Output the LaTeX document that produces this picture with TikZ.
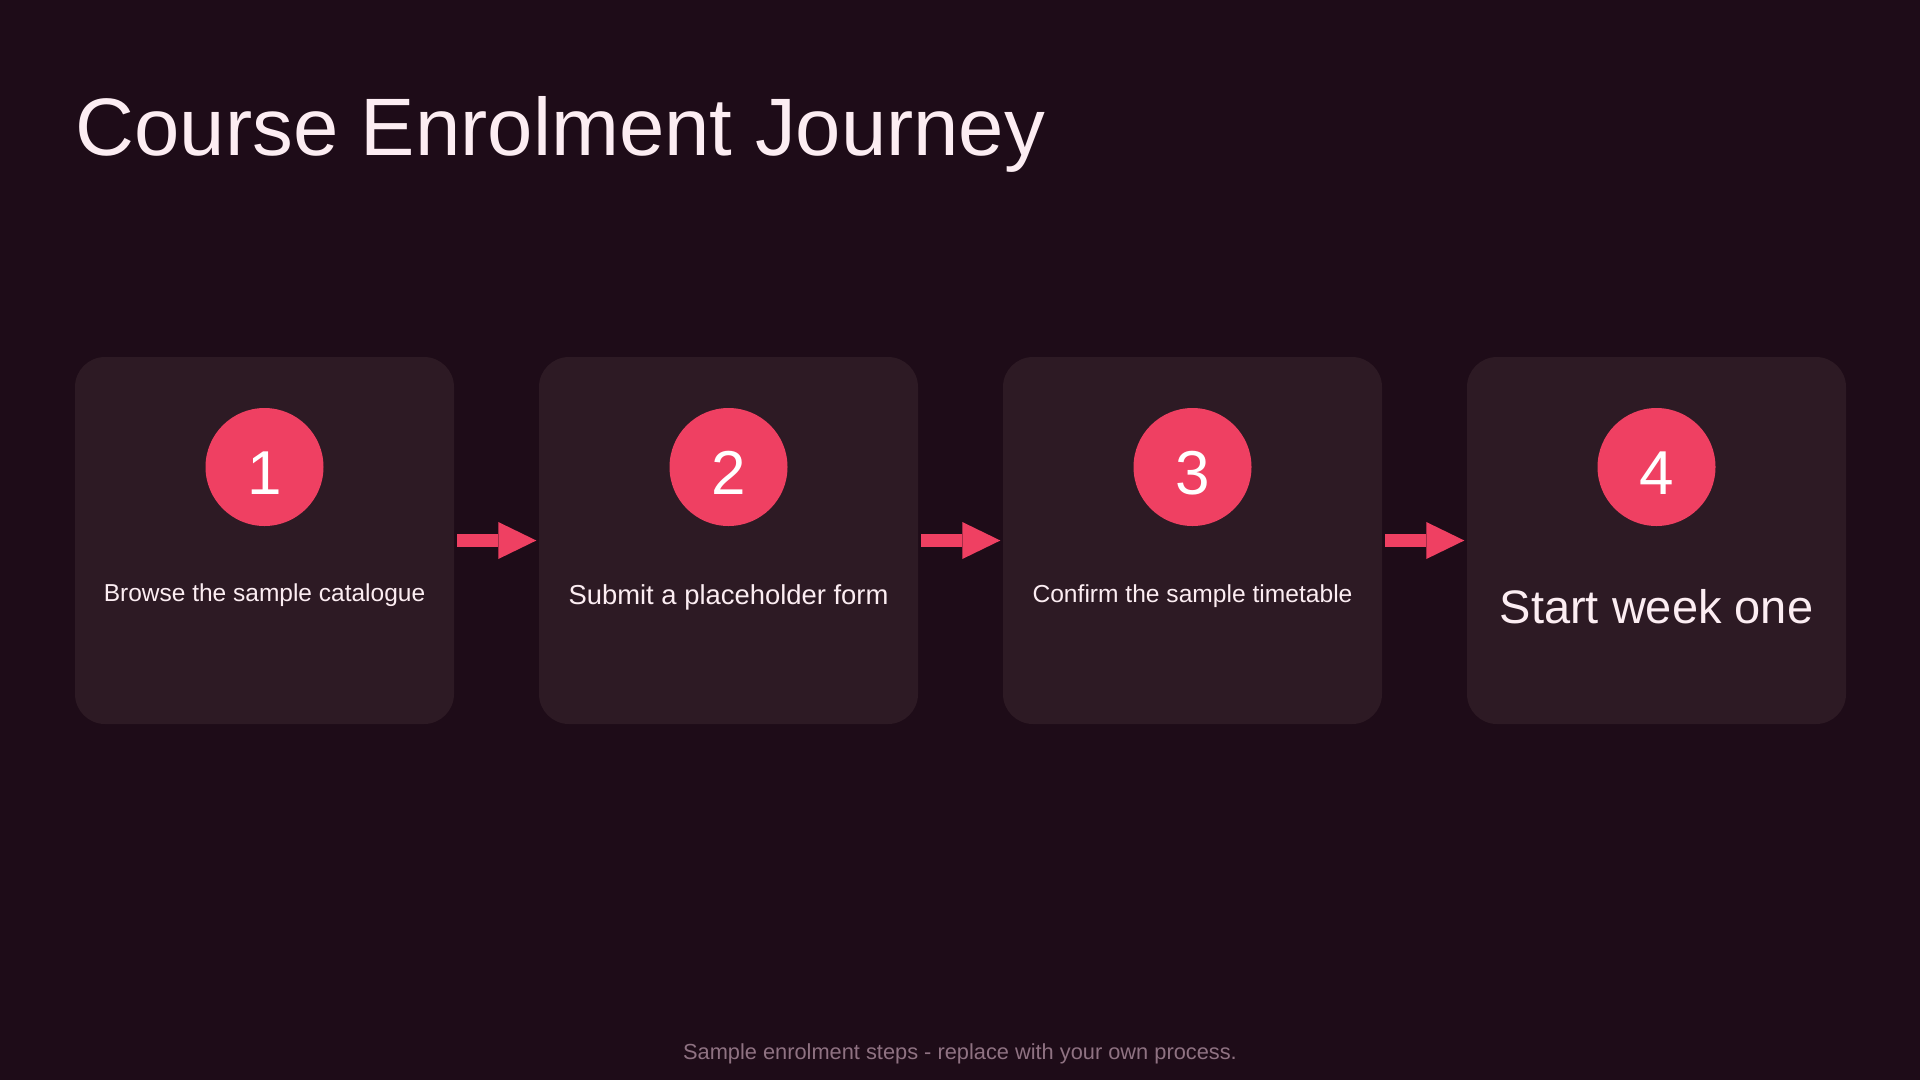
\documentclass[tikz,border=0pt]{standalone}
\usepackage{fontspec}
\setmainfont{Liberation Sans}
\usetikzlibrary{arrows.meta}
\definecolor{bgc}{HTML}{1E0C18}
\definecolor{boxc}{HTML}{2D1A24}
\definecolor{accent}{HTML}{EF4062}
\definecolor{txtc}{HTML}{FCEDF2}
\definecolor{footc}{HTML}{8F7282}
\tikzset{
  stepbox/.style={rectangle, rounded corners=30pt, fill=boxc, minimum width=379pt, minimum height=367pt, inner sep=0pt},
  numcirc/.style={circle, fill=accent, minimum size=118pt, inner sep=0pt},
  numtxt/.style={text=white, anchor=base, inner sep=0pt, font=\fontsize{62}{70}\selectfont},
  desc/.style={text=txtc, anchor=base, inner sep=0pt},
  flow/.style={draw=accent, line width=13pt, shorten <=3pt, shorten >=2.5pt, -{Triangle[length=38pt, width=37pt, line width=0pt]}}
}
\begin{document}
\begin{tikzpicture}[x=1pt,y=-1pt]
\fill[bgc] (0,0) rectangle (1920,1080);
\useasboundingbox (0,0) rectangle (1920,1080);
\node[text=txtc, anchor=base west, inner sep=0pt, font=\fontsize{81.5}{96}\selectfont] (title) at (75.5,155) {Course Enrolment Journey};

\foreach \i/\x in {1/264.5, 2/728.5, 3/1192.5, 4/1656.5}{
  \node[stepbox] (b\i) at (\x,540.5) {};
  \node[numcirc] (c\i) at (\x,467) {};
  \node[numtxt] (n\i) at (\x,494) {\i};
}
\node[desc, font=\fontsize{24.5}{30}\selectfont] (t1) at (264.5,601) {Browse the sample catalogue};
\node[desc, font=\fontsize{27.4}{32}\selectfont] (t2) at (728.5,604) {Submit a placeholder form};
\node[desc, font=\fontsize{24.6}{30}\selectfont] (t3) at (1192.5,602) {Confirm the sample timetable};
\node[desc, font=\fontsize{47}{56}\selectfont] (t4) at (1656.5,623) {Start week one};

\draw[flow] (b1.east) -- (b2.west);
\draw[flow] (b2.east) -- (b3.west);
\draw[flow] (b3.east) -- (b4.west);

\node[text=footc, anchor=base, inner sep=0pt, font=\fontsize{21.8}{26}\selectfont] (foot) at (960,1059) {Sample enrolment steps - replace with your own process.};
\end{tikzpicture}
\end{document}
